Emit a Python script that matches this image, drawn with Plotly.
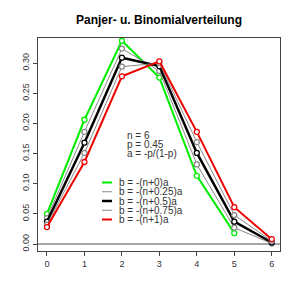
import plotly.graph_objects as go

# ---- data ----
x_vals = [0, 1, 2, 3, 4, 5, 6]
p_c000 = [0.050, 0.206, 0.337, 0.276, 0.113, 0.018]          # b = -(n+0)a (ends at 5)
p_c025 = [0.043, 0.186, 0.324, 0.287, 0.132, 0.027, 0.001]   # b = -(n+0.25)a
p_c050 = [0.037, 0.168, 0.309, 0.295, 0.151, 0.037, 0.0025]  # b = -(n+0.5)a
p_c075 = [0.032, 0.151, 0.294, 0.300, 0.169, 0.048, 0.005]   # b = -(n+0.75)a
p_c100 = [0.028, 0.136, 0.278, 0.303, 0.186, 0.061, 0.008]   # b = -(n+1)a (binomial)

series_names = ["b = -(n+0)a", "b = -(n+0.25)a", "b = -(n+0.5)a",
                "b = -(n+0.75)a", "b = -(n+1)a"]
series_vals = [p_c000, p_c025, p_c050, p_c075, p_c100]
series_colors = ["#00EE00", "#888888", "#000000", "#888888", "#EE0000"]
series_widths = [2, 1, 2.5, 1, 2]

x_ticks = [0, 1, 2, 3, 4, 5, 6]
y_ticks = [0.00, 0.05, 0.10, 0.15, 0.20, 0.25, 0.30]
y_tick_text = ["0.00", "0.05", "0.10", "0.15", "0.20", "0.25", "0.30"]

info_lines = ["n = 6", "p = 0.45", "a = -p/(1-p)"]
title_text = "Panjer- u. Binomialverteilung"

FONT = "Liberation Sans, Arial, sans-serif"
W, H = 300, 300
L, R, T, B = 38, 20, 38, 49

def px_x(px):
    return (px - L) / (W - L - R)

def px_y(py):
    return (H - B - py) / (H - T - B)

fig = go.Figure()
for name, vals, col, lw in zip(series_names, series_vals, series_colors, series_widths):
    fig.add_trace(go.Scatter(
        x=x_vals[:len(vals)], y=vals, mode="lines+markers", name=name,
        line=dict(color=col, width=lw),
        marker=dict(symbol="circle", size=5, color="white",
                    line=dict(color=col, width=1.3)),
        showlegend=False))

shapes = [dict(type="line", xref="paper", x0=0, x1=1, yref="y", y0=0, y1=0,
               line=dict(color="#888888", width=1.5), layer="below")]
annotations = []

# info text
for i, t in enumerate(info_lines):
    annotations.append(dict(text=t, x=px_x(125), y=px_y(135 + i * 9.2),
                            xref="paper", yref="paper", xanchor="left",
                            yanchor="middle", showarrow=False,
                            font=dict(family=FONT, size=10, color="#333333")))

# manual legend
for i, (name, col, lw) in enumerate(zip(series_names, series_colors, series_widths)):
    yy = px_y(182.5 + i * 9.25)
    shapes.append(dict(type="line", xref="paper", yref="paper",
                       x0=px_x(102), x1=px_x(112), y0=yy, y1=yy,
                       line=dict(color=col, width=lw)))
    annotations.append(dict(text=name, x=px_x(116.5), y=yy, xref="paper",
                            yref="paper", xanchor="left", yanchor="middle",
                            showarrow=False,
                            font=dict(family=FONT, size=10, color="#333333")))

fig.update_layout(
    width=W, height=H,
    margin=dict(l=L, r=R, t=T, b=B),
    paper_bgcolor="white", plot_bgcolor="white",
    title=dict(text="<b>" + title_text + "</b>", x=px_x(159) * (W - L - R) / W + L / W,
               xanchor="center", y=1 - 20 / H, yanchor="middle",
               font=dict(family=FONT, size=12, color="#000000")),
    shapes=shapes, annotations=annotations,
    xaxis=dict(range=[-0.24, 6.22], tickvals=x_ticks, showgrid=False,
               zeroline=False, showline=True, mirror=True, linecolor="#444444",
               linewidth=1, ticks="outside", ticklen=4, tickcolor="#444444",
               tickfont=dict(family=FONT, size=9, color="#333333")),
    yaxis=dict(range=[-0.0116, 0.3416], tickvals=y_ticks, ticktext=y_tick_text,
               showgrid=False, zeroline=False, showline=True, mirror=True,
               linecolor="#444444", linewidth=1, ticks="outside", ticklen=4,
               tickcolor="#444444", tickangle=-90,
               tickfont=dict(family=FONT, size=9, color="#333333")),
)

fig.write_html("out.html")
